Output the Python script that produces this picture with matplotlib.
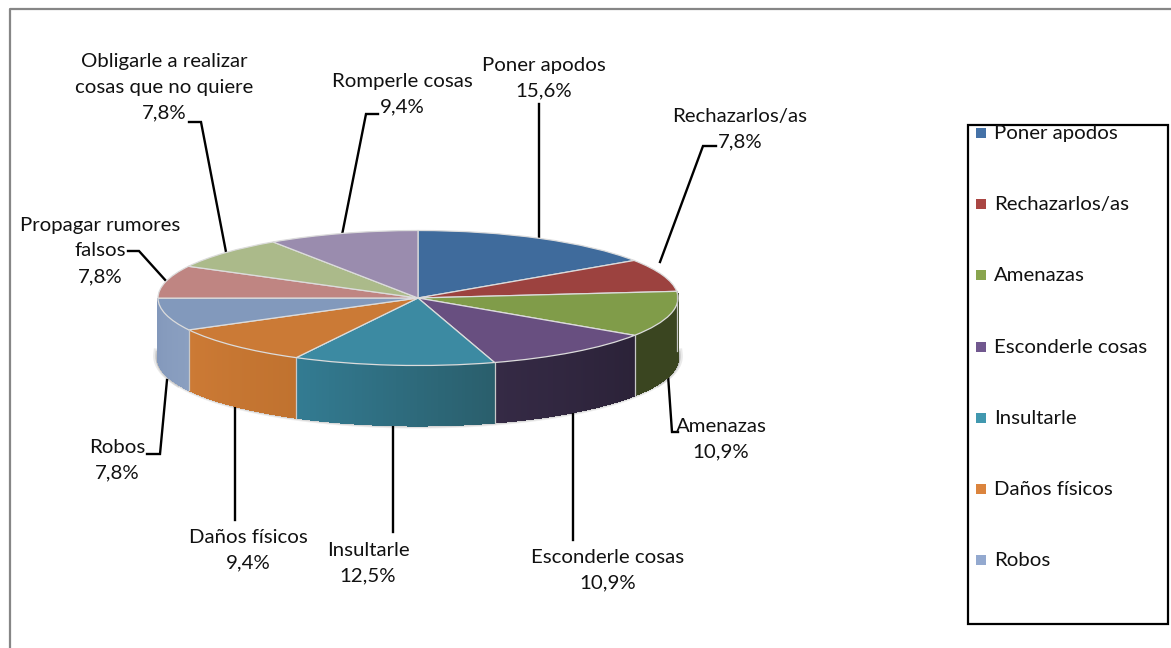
import matplotlib
matplotlib.use("Agg")
import matplotlib.pyplot as plt
import matplotlib.colors as mcolors
from matplotlib.patches import Rectangle
import numpy as np

plt.rcParams['font.family'] = ['Lato', 'DejaVu Sans']

# data
names = ['Poner apodos', 'Rechazarlos/as', 'Amenazas', 'Esconderle cosas', 'Insultarle',
         'Daños físicos', 'Robos', 'Propagar rumores', 'Obligarle a realizar', 'Romperle cosas']
label_names = ['Poner apodos', 'Rechazarlos/as', 'Amenazas', 'Esconderle cosas', 'Insultarle',
               'Daños físicos', 'Robos', 'Propagar rumores\nfalsos',
               'Obligarle a realizar\ncosas que no quiere', 'Romperle cosas']
values = [15.6, 7.8, 10.9, 10.9, 12.5, 9.4, 7.8, 7.8, 7.8, 9.4]
legend_names = names[:7]

top_colors = ['#3f6b9c', '#9c423f', '#809c49', '#684f80', '#3c8aa2',
              '#cb7a36', '#8299bc', '#bf8582', '#abba8a', '#9a8cae']
legend_colors = ['#4572a7', '#aa4643', '#89a54e', '#71588f', '#4198af', '#db843d', '#93a9cf']
# left and right shade of the side wall, only for the front slices
wall_left = {2: '#3a4520', 3: '#352a45', 4: '#337b92', 5: '#cc7a35', 6: '#8398bb'}
wall_right = {2: '#3a4520', 3: '#2b2238', 4: '#2a5e6c', 5: '#c0722f', 6: '#8a9fc0'}

W, H = 1171, 648
fig = plt.figure(figsize=(W / 100, H / 100), dpi=100)

# background axes in pixels, for frame, leaders, labels and legend
bg = fig.add_axes([0, 0, 1, 1], zorder=0)
bg.set_xlim(0, W)
bg.set_ylim(H, 0)
bg.axis('off')

bg.plot([10, 10, W], [H, 9, 9], color='#868686', lw=1.6)

# soft shadow round the lower rim, heavier at the two sides
cx, cy, rx, ry, depth = 418, 298, 260, 67.5, 60
t = np.radians(np.linspace(85, 275, 200))
for lw, a in [(3, 0.1), (1.5, 0.15)]:
    bg.plot(cx + rx * np.sin(t), cy + depth + 1 - ry * np.cos(t), color='#555555', lw=lw, alpha=a)
for rng in [(88, 112), (248, 272)]:
    t = np.radians(np.linspace(rng[0], rng[1], 40))
    for lw, a in [(7, 0.12), (4, 0.2)]:
        bg.plot(cx + rx * np.sin(t), cy + depth - 2 - ry * np.cos(t), color='#555555', lw=lw, alpha=a)

# leader lines
leaders = [[(539, 104), (539, 240)],
           [(716, 146), (703, 146), (660, 262)],
           [(678, 432), (672, 432), (668, 375)],
           [(573, 540), (573, 410)],
           [(393, 532), (393, 425)],
           [(235, 520), (235, 405)],
           [(147, 454), (160, 454), (167, 380)],
           [(128, 251), (139, 251), (167, 282)],
           [(189, 122), (201, 122), (226, 252)],
           [(378, 114), (366, 114), (342, 235)]]
for pts in leaders:
    xs, ys = zip(*pts)
    bg.plot(xs, ys, color='black', lw=1.7, solid_joinstyle='miter')

# pie labels
label_xy = [(544, 78), (740, 129), (721, 439), (608, 570), (368, 563),
            (248, 550), (117, 460), (100, 251), (164, 87), (402, 94)]
for name, val, (x, y) in zip(label_names, values, label_xy):
    txt = name + '\n' + f'{val:.1f}%'.replace('.', ',')
    bg.text(x, y, txt, ha='center', va='center', ma='center', fontsize=14.7,
            linespacing=1.6, color='#111111')

# legend
bg.add_patch(Rectangle((968, 125), 200, 499, fc='white', ec='black', lw=1.6))
for i, (name, col) in enumerate(zip(legend_names, legend_colors)):
    yy = 133 + i * 71.2
    bg.add_patch(Rectangle((976, yy - 5), 10, 10, fc=col, ec='none'))
    bg.text(994, yy + 0.5, name, ha='left', va='center', fontsize=14.7, color='#111111')

# pie axes: radius 1 fills the ellipse, so the top of the pie is a squashed pie
ax = fig.add_axes([(cx - rx) / W, 1 - (cy + ry) / H, 2 * rx / W, 2 * ry / H], zorder=1)
ax.patch.set_alpha(0)

# side wall, drawn as thin strips between the slice angles
bounds = np.cumsum([0] + values) / sum(values) * 360
dz = depth / ry
for i in wall_left:
    th = np.radians(np.linspace(bounds[i], min(bounds[i + 1], 270), 60))
    c0 = np.array(mcolors.to_rgb(wall_right[i]))
    c1 = np.array(mcolors.to_rgb(wall_left[i]))
    for k in range(len(th) - 1):
        f = k / (len(th) - 2)
        xs = [np.sin(th[k]), np.sin(th[k + 1]), np.sin(th[k + 1]), np.sin(th[k])]
        ys = [np.cos(th[k]), np.cos(th[k + 1]), np.cos(th[k + 1]) - dz, np.cos(th[k]) - dz]
        c = c0 + (c1 - c0) * f
        ax.fill(xs, ys, facecolor=c, edgecolor=c, lw=0.8, clip_on=False, antialiased=False)
    e = np.radians(bounds[i])
    ax.plot([np.sin(e)] * 2, [np.cos(e), np.cos(e) - dz], color='#c8c8c8', lw=0.9, clip_on=False)

wedges, _ = ax.pie(values, colors=top_colors, startangle=90, counterclock=False, radius=1,
                   wedgeprops=dict(edgecolor='#dcdcdc', linewidth=0.9, clip_on=False))
ax.set_xlim(-1, 1)
ax.set_ylim(-1, 1)
ax.set_aspect('auto')
ax.axis('off')

fig.savefig('out.png', dpi=100, facecolor='white')
